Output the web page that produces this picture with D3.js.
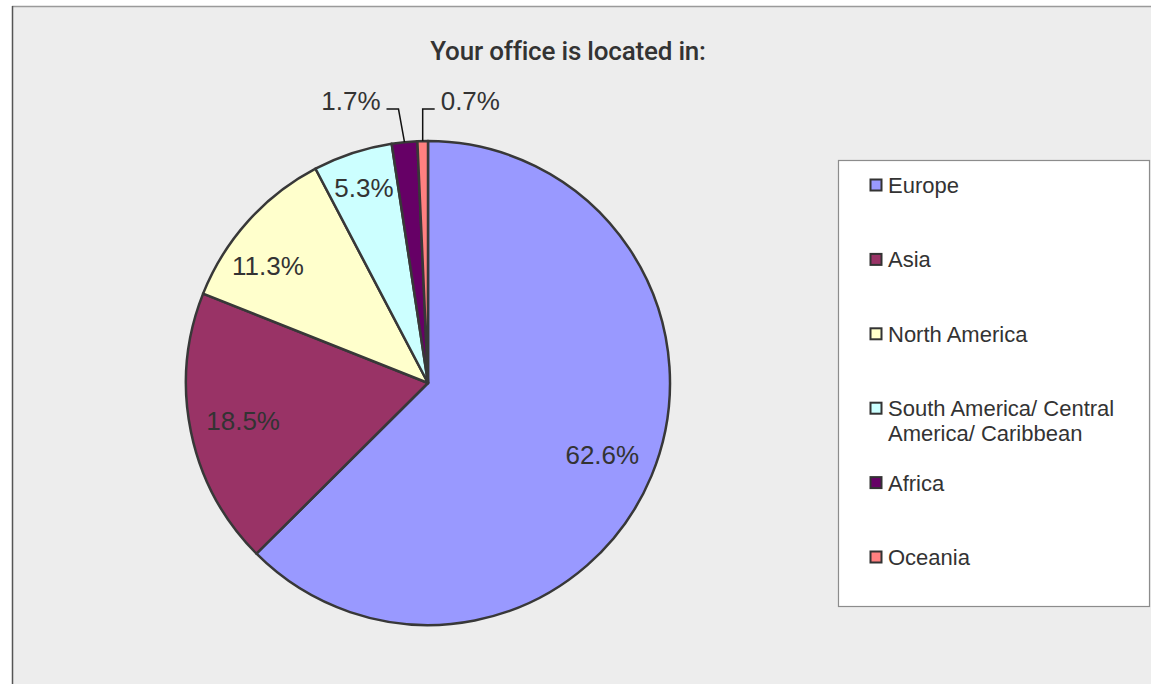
<!DOCTYPE html>
<html>
<head>
<meta charset="utf-8">
<script src="https://cdn.jsdelivr.net/npm/d3@7"></script>
<style>
  html, body { margin: 0; padding: 0; background: #ffffff; }
  svg { display: block; }
  text { font-family: "Liberation Sans", Arial, sans-serif; fill: #333333; }
  text.title { font-family: Roboto, "Liberation Sans", Arial, sans-serif; }
</style>
</head>
<body>
<svg id="chart" width="1151" height="684"></svg>
<script>
// Office locations of survey respondents (share of responses, %)
const regions = ["Europe", "Asia", "North America", "South America/ Central America/ Caribbean", "Africa", "Oceania"];
const legendLines = [["Europe"], ["Asia"], ["North America"], ["South America/ Central", "America/ Caribbean"], ["Africa"], ["Oceania"]];
const shares = [62.6, 18.5, 11.3, 5.3, 1.7, 0.7];
const sliceColors = ["#9999ff", "#993366", "#ffffcc", "#ccffff", "#660066", "#ff8080"];
const chartTitle = "Your office is located in:";

const W = 1151, H = 684;
const svg = d3.select("#chart");

// Chart area frame
svg.append("rect").attr("x", 12).attr("y", 6).attr("width", W - 12).attr("height", H - 6)
  .attr("fill", "#ededed");
svg.append("line").attr("x1", 12).attr("x2", W).attr("y1", 6.5).attr("y2", 6.5)
  .attr("stroke", "#9a9a9a").attr("stroke-width", 1.5);
svg.append("line").attr("x1", 12.5).attr("x2", 12.5).attr("y1", 6).attr("y2", H)
  .attr("stroke", "#555555").attr("stroke-width", 1.5);

// Title
svg.append("text").attr("class", "title").attr("x", 568).attr("y", 60).attr("text-anchor", "middle")
  .style("font-size", "26px").style("font-weight", 500).style("letter-spacing", "-0.2px")
  .attr("fill", "#222222").text(chartTitle);

// Pie
const cx = 428, cy = 383, R = 242;
const data = regions.map((r, i) => ({ region: r, value: shares[i], color: sliceColors[i] }));
const pie = d3.pie().value(d => d.value).sort(null);
const arcs = pie(data);
const arc = d3.arc().innerRadius(0).outerRadius(R);

const g = svg.append("g").attr("transform", `translate(${cx},${cy})`);
g.selectAll("path.slice").data(arcs).join("path")
  .attr("class", "slice")
  .attr("d", arc)
  .attr("fill", d => d.data.color)
  .attr("stroke", "#383838")
  .attr("stroke-width", 2.5)
  .attr("stroke-linejoin", "round");

const fmt = v => v.toFixed(1) + "%";
const labelFont = "26px";

// Labels inside slices wide enough to hold them
arcs.filter(d => d.data.value >= 3).forEach(d => {
  const mid = (d.startAngle + d.endAngle) / 2;
  // mid-sized slices have their label nudged toward the slice's leading edge
  const shift = d.data.value >= 8 && d.data.value < 15 ? -0.1 : 0;
  const a = mid + shift;
  const frac = d.data.value < 8 ? 0.85 : (d.data.value < 15 ? 0.82 : 0.78);
  const lr = R * frac;
  g.append("text")
    .attr("x", Math.sin(a) * lr)
    .attr("y", -Math.cos(a) * lr)
    .attr("text-anchor", "middle")
    .attr("dominant-baseline", "central")
    .style("font-size", labelFont)
    .text(fmt(d.data.value));
});

// Thin slices get labels above the pie with elbow leader lines
const elbowY = -R - 32;
arcs.filter(d => d.data.value < 3).forEach((d, k) => {
  const mid = (d.startAngle + d.endAngle) / 2;
  const ex = Math.sin(mid) * R, ey = -Math.cos(mid) * R;
  const side = k === 0 ? -1 : 1;
  const bx = ex + (k === 0 ? -6 : 0);
  const hx = bx + side * 12;
  g.append("polyline")
    .attr("points", [[ex, ey], [bx, elbowY], [hx, elbowY]].map(p => p.join(",")).join(" "))
    .attr("fill", "none").attr("stroke", "#111111").attr("stroke-width", 1.5);
  g.append("text")
    .attr("x", hx + side * 6)
    .attr("y", elbowY - 8)
    .attr("text-anchor", side < 0 ? "end" : "start")
    .attr("dominant-baseline", "central")
    .style("font-size", labelFont)
    .text(fmt(d.data.value));
});

// Legend
const lg = svg.append("g");
lg.append("rect").attr("x", 838.5).attr("y", 160.5).attr("width", 311).attr("height", 446)
  .attr("fill", "#ffffff").attr("stroke", "#8c8c8c").attr("stroke-width", 1.2);
const rowY = d3.scaleLinear().domain([0, regions.length - 1]).range([185, 557]);
regions.forEach((r, i) => {
  const y = rowY(i);
  lg.append("rect").attr("x", 870.5).attr("y", y - 5.5).attr("width", 11).attr("height", 11)
    .attr("fill", sliceColors[i]).attr("stroke", "#333333").attr("stroke-width", 2);
  const t = lg.append("text").attr("x", 888).attr("y", y)
    .attr("dominant-baseline", "central").style("font-size", "22px");
  legendLines[i].forEach((line, j) => {
    t.append("tspan").attr("x", 888).attr("dy", j === 0 ? 0 : 25).text(line);
  });
});
</script>
</body>
</html>
